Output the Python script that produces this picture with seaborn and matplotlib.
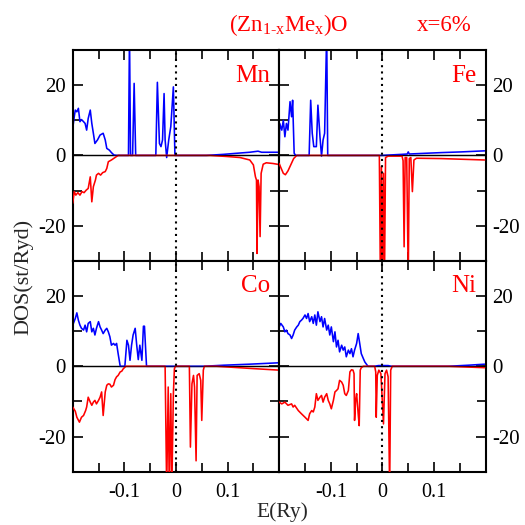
import numpy as np
import pandas as pd
import matplotlib
matplotlib.use("Agg")
import matplotlib.pyplot as plt
import seaborn as sns
from matplotlib.ticker import FixedLocator, FuncFormatter

# ---------------- data ----------------
# Mn
mn_E_up = [-0.200, -0.197, -0.195, -0.192, -0.189, -0.186, -0.183, -0.179, -0.176, -0.173,
           -0.170, -0.166, -0.163, -0.160, -0.157, -0.152, -0.147, -0.141, -0.137, -0.134,
           -0.129, -0.125, -0.120, -0.115, -0.092, -0.090, -0.088, -0.084, -0.081, -0.078,
           -0.039, -0.036, -0.032, -0.029, -0.026, -0.023, -0.021, -0.018, -0.014, -0.010,
           -0.005, -0.002, 0.059, 0.092, 0.117, 0.143, 0.159, 0.166, 0.200]
mn_up = [7.7, 11.0, 12.9, 12.4, 13.4, 9.6, 10.2, 9.6, 9.1, 7.2,
         10.5, 12.9, 9.1, 6.3, 3.4, 4.4, 5.8, 6.3, 4.4, 2.0,
         1.5, 0.8, 0.1, 0.0, 0.0, 35.0, 0.0, 0.0, 20.5, 0.0,
         0.0, 20.8, 3.4, 2.5, 4.4, 17.6, 4.4, -0.6, 4.4, 8.2,
         19.5, 0.0, 0.0, 0.3, 0.6, 0.9, 1.2, 0.9, 0.9]
mn_E_dn = [-0.200, -0.197, -0.194, -0.190, -0.186, -0.182, -0.178, -0.174, -0.170, -0.166,
           -0.163, -0.160, -0.156, -0.154, -0.150, -0.146, -0.142, -0.137, -0.134, -0.131,
           -0.125, -0.118, -0.112, 0.066, 0.098, 0.124, 0.143, 0.150, 0.154, 0.156,
           0.157, 0.159, 0.161, 0.163, 0.165, 0.169, 0.175, 0.188, 0.200]
mn_dn = [-13.6, -10.3, -11.3, -10.6, -11.3, -10.3, -10.6, -9.9, -9.4, -6.1,
         -13.2, -8.9, -7.0, -5.6, -5.1, -5.6, -4.9, -4.6, -3.7, -1.8,
         -1.3, -0.6, 0.0, 0.0, -0.3, -0.6, -1.3, -2.7, -6.1, -7.0,
         -27.9, -7.0, -8.9, -23.1, -5.1, -2.5, -2.1, -2.3, -2.6]

# Fe
fe_E_up = [-0.200, -0.199, -0.195, -0.192, -0.189, -0.186, -0.183, -0.179, -0.176, -0.174,
           -0.171, -0.168, -0.142, -0.139, -0.136, -0.133, -0.128, -0.125, -0.121, -0.118,
           -0.115, -0.112, -0.108, -0.106, 0.000, 0.037, 0.048, 0.050, 0.052, 0.082,
           0.114, 0.153, 0.198]
fe_up = [0.8, 9.1, 7.2, 10.0, 5.3, 9.1, 7.2, 15.3, 11.0, 15.7,
         0.6, 0.0, 0.0, 15.7, 6.3, 2.5, 2.5, 14.3, 5.3, -0.2,
         4.4, 6.3, 35.0, 0.0, 0.0, 0.3, 0.4, 1.0, 0.4, 0.6,
         0.8, 1.0, 1.3]
fe_E_dn = [-0.200, -0.197, -0.192, -0.188, -0.183, -0.177, -0.172, -0.166, -0.006, -0.004,
           -0.002, 0.000, 0.002, 0.004, 0.006, 0.011, 0.038, 0.040, 0.042, 0.044,
           0.047, 0.050, 0.052, 0.055, 0.058, 0.061, 0.066, 0.114, 0.198]
fe_dn = [-2.3, -3.4, -5.1, -5.5, -4.4, -2.5, -0.9, 0.0, 0.0, -35.0,
         -3.2, -35.0, -5.1, -35.0, -0.6, -0.2, -0.2, -1.5, -26.0, -0.6,
         -0.6, -35.0, -0.9, -0.6, -10.3, -1.3, -0.8, -0.9, -1.3]

# Co
co_E_up = [-0.200, -0.195, -0.192, -0.189, -0.186, -0.183, -0.179, -0.176, -0.173, -0.170,
           -0.166, -0.163, -0.160, -0.157, -0.154, -0.150, -0.147, -0.144, -0.141, -0.137,
           -0.134, -0.131, -0.128, -0.125, -0.121, -0.118, -0.115, -0.112, -0.108, -0.099,
           -0.095, -0.092, -0.089, -0.086, -0.083, -0.079, -0.076, -0.073, -0.070, -0.066,
           -0.063, -0.061, -0.057, 0.053, 0.092, 0.143, 0.200]
co_up = [11.7, 13.6, 15.2, 13.1, 11.7, 10.8, 10.3, 11.7, 9.8, 12.2,
         12.7, 9.8, 10.8, 8.9, 10.8, 12.7, 11.2, 10.3, 9.3, 10.3,
         10.8, 9.8, 8.4, 6.0, 6.5, 6.0, 6.5, 3.6, 0.0, 0.0,
         7.4, 6.0, 1.7, 6.0, 8.9, 10.8, 6.0, 1.9, 6.0, 1.7,
         11.4, 11.4, 0.0, 0.0, 0.3, 0.6, 1.0]
co_E_dn = [-0.200, -0.195, -0.192, -0.187, -0.183, -0.179, -0.175, -0.173, -0.170, -0.166,
           -0.163, -0.160, -0.157, -0.154, -0.150, -0.147, -0.144, -0.141, -0.137, -0.134,
           -0.131, -0.128, -0.125, -0.121, -0.118, -0.115, -0.112, -0.108, -0.105, -0.102,
           -0.097, -0.021, -0.018, -0.015, -0.013, -0.010, -0.008, -0.005, -0.003, -0.001,
           0.026, 0.028, 0.031, 0.034, 0.036, 0.039, 0.041, 0.045, 0.048, 0.050,
           0.053, 0.055, 0.079, 0.143, 0.200]
co_dn = [-11.6, -12.8, -14.5, -15.9, -14.5, -14.0, -12.6, -11.6, -8.8, -10.2,
         -11.1, -10.2, -9.7, -10.7, -9.7, -8.8, -7.3, -14.0, -7.3, -5.4,
         -5.0, -5.1, -5.9, -5.4, -3.8, -3.0, -2.6, -1.6, -1.4, -0.7,
         0.0, 0.0, -35.0, -5.9, -35.0, -7.8, -35.0, -7.8, -0.7, 0.0,
         0.0, -23.0, -5.0, -2.6, -5.9, -26.9, -2.6, -2.1, -4.0, -15.4,
         -1.1, 0.0, 0.0, -0.6, -1.1]

# Ni
ni_E_up = [-0.200, -0.197, -0.192, -0.189, -0.186, -0.183, -0.179, -0.176, -0.173, -0.170,
           -0.166, -0.163, -0.160, -0.157, -0.154, -0.150, -0.147, -0.144, -0.141, -0.137,
           -0.134, -0.131, -0.128, -0.125, -0.121, -0.118, -0.115, -0.112, -0.108, -0.105,
           -0.102, -0.099, -0.095, -0.092, -0.089, -0.086, -0.083, -0.079, -0.076, -0.073,
           -0.070, -0.066, -0.063, -0.060, -0.057, -0.054, -0.050, -0.047, -0.044, -0.041,
           -0.037, -0.034, -0.031, -0.028, -0.015, -0.008, 0.011, 0.017, 0.127, 0.166,
           0.198]
ni_up = [11.2, 12.2, 11.2, 9.8, 10.3, 9.3, 8.9, 7.9, 8.9, 10.3,
         11.2, 11.7, 12.7, 13.1, 13.6, 14.6, 13.6, 15.0, 12.7, 14.1,
         12.2, 14.6, 11.7, 15.5, 12.7, 14.1, 11.2, 13.6, 10.3, 11.7,
         8.9, 11.2, 7.0, 9.8, 5.5, 7.4, 4.1, 6.0, 4.6, 5.5,
         2.7, 4.6, 3.6, 5.0, 2.7, 4.6, 6.5, 9.3, 6.5, 3.6,
         2.2, 1.2, 0.6, 0.0, 0.0, 0.2, 0.2, 0.0, 0.0, 0.3,
         0.6]
ni_E_dn = [-0.200, -0.195, -0.189, -0.183, -0.176, -0.173, -0.170, -0.163, -0.157, -0.150,
           -0.144, -0.141, -0.137, -0.134, -0.131, -0.128, -0.125, -0.121, -0.118, -0.115,
           -0.112, -0.108, -0.105, -0.102, -0.099, -0.095, -0.092, -0.089, -0.086, -0.083,
           -0.079, -0.076, -0.073, -0.070, -0.066, -0.063, -0.060, -0.057, -0.055, -0.054,
           -0.052, -0.050, -0.047, -0.045, -0.043, -0.041, -0.037, -0.015, -0.013, -0.012,
           -0.010, -0.007, -0.003, -0.001, 0.002, 0.005, 0.008, 0.011, 0.014, 0.016,
           0.019, 0.127, 0.198]
ni_dn = [-10.2, -10.7, -10.2, -11.1, -10.7, -11.6, -11.1, -12.6, -13.5, -14.5,
         -15.4, -13.5, -12.6, -13.0, -11.6, -7.8, -9.7, -8.8, -8.3, -10.2,
         -8.8, -7.8, -9.7, -10.7, -12.1, -9.7, -7.3, -6.9, -6.4, -4.0,
         -4.5, -5.4, -7.8, -8.3, -6.9, -1.6, -1.0, -1.1, -2.1, -15.4,
         -9.7, -7.8, -13.5, -16.9, -1.1, -0.4, 0.0, 0.0, -1.6, -14.5,
         -2.6, -1.1, -2.1, -7.8, -16.4, -2.1, -1.1, -3.0, -35.0, -1.1,
         0.0, 0.0, -0.4]

elements = ["Mn", "Fe", "Co", "Ni"]
x_major = [-0.1, 0.0, 0.1]
x_minor = [-0.15, -0.05, 0.05, 0.15]
y_major = [-20, 0, 20]
y_minor = [-10, 10]

panels = {
    "Mn": (mn_E_up, mn_up, mn_E_dn, mn_dn),
    "Fe": (fe_E_up, fe_up, fe_E_dn, fe_dn),
    "Co": (co_E_up, co_up, co_E_dn, co_dn),
    "Ni": (ni_E_up, ni_up, ni_E_dn, ni_dn),
}

# ---------------- style ----------------
sns.set_style("ticks")
plt.rcParams["font.family"] = ["Liberation Serif", "DejaVu Serif"]
plt.rcParams["mathtext.fontset"] = "custom"
plt.rcParams["mathtext.rm"] = "Liberation Serif"
plt.rcParams["mathtext.it"] = "Liberation Serif:italic"

fig, axes = plt.subplots(2, 2, figsize=(5.25, 5.25), dpi=100)
fig.subplots_adjust(left=0.1385, right=0.9251, top=0.9048, bottom=0.1015,
                    wspace=0, hspace=0)

fmt = FuncFormatter(lambda v, p: "%g" % v)

for i, name in enumerate(elements):
    ax = axes.flat[i]
    E_up, up, E_dn, dn = panels[name]
    ax.axhline(0, color="black", lw=1.0, zorder=1)
    sns.lineplot(x=E_up, y=up, ax=ax, color="#0000ff", lw=1.15,
                 estimator=None, sort=False, zorder=2)
    sns.lineplot(x=E_dn, y=dn, ax=ax, color="#ff0000", lw=1.15,
                 estimator=None, sort=False, zorder=3)
    ax.axhline(0, color="black", lw=0.8, alpha=0.55, zorder=4)
    ax.axvline(0, color="black", lw=1.5, ls=(0, (1, 2)), zorder=5)
    ax.set_xlim(-0.2, 0.2)
    ax.set_ylim(-30, 30)
    ax.set_xlabel("")
    ax.set_ylabel("")
    ax.xaxis.set_major_locator(FixedLocator(x_major))
    ax.xaxis.set_minor_locator(FixedLocator(x_minor))
    ax.yaxis.set_major_locator(FixedLocator(y_major))
    ax.yaxis.set_minor_locator(FixedLocator(y_minor))
    ax.xaxis.set_major_formatter(fmt)
    ax.yaxis.set_major_formatter(fmt)
    row, col = divmod(i, 2)
    ax.tick_params(which="both", direction="in", top=True, bottom=True,
                   left=True, right=True, width=1.2, colors="black")
    ax.tick_params(which="major", length=7.5)
    ax.tick_params(which="minor", length=6.5)
    ax.tick_params(axis="x", labelsize=14.5, pad=8,
                   labelbottom=(row == 1), labeltop=False)
    ax.tick_params(axis="y", labelsize=15, pad=5,
                   labelleft=(col == 0), labelright=(col == 1))
    for s in ax.spines.values():
        s.set_linewidth(1.5)
        s.set_color("black")
    ax.text(0.955, 0.85, name, transform=ax.transAxes, ha="right",
            va="baseline", color="#ff0000", fontsize=18)

fig.text(0.550, 0.9415, r"(Zn$_{\text{1-x}}$Me$_{\text{x}}$)O", color="#ff0000",
         fontsize=16.5, ha="center", va="baseline")
fig.text(0.846, 0.9415, "x=6%", color="#ff0000", fontsize=16.5,
         ha="center", va="baseline")
fig.text(0.044, 0.472, "DOS(st/Ryd)", rotation=90, fontsize=16,
         ha="center", va="center")
fig.text(0.537, 0.0152, "E(Ry)", fontsize=15.5, ha="center", va="baseline")

fig.savefig("out.png", dpi=100, facecolor="white")
